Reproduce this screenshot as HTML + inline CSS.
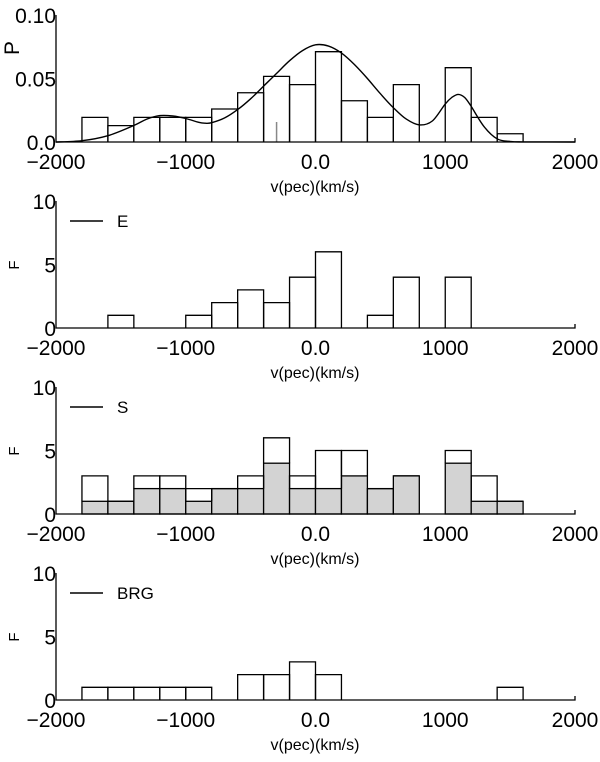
<!DOCTYPE html>
<html><head><meta charset="utf-8"><style>
html,body{margin:0;padding:0;background:#fff;}
svg text{font-family:"Liberation Sans",sans-serif;fill:#000;}
</style></head><body>
<svg id="c" width="600" height="757" viewBox="0 0 600 757" xmlns="http://www.w3.org/2000/svg"></svg>
<script>
const binStarts = [-1800,-1600,-1400,-1200,-1000,-800,-600,-400,-200,0,200,400,600,800,1000,1200,1400];
const pValues = [0.0194,0.0129,0.0194,0.0194,0.0194,0.026,0.0388,0.0517,0.0452,0.0711,0.0325,0.0194,0.0452,0,0.0585,0.0194,0.0065];
const curveV = [-2000,-1800,-1600,-1400,-1300,-1200,-1100,-1000,-900,-850,-800,-700,-600,-500,-400,-300,-200,-100,0,100,200,300,400,500,600,700,800,900,1000,1050,1100,1150,1200,1300,1400,1500,1600,2000];
const curveP = [0,0.001,0.005,0.013,0.018,0.0208,0.0205,0.0185,0.0155,0.0148,0.0152,0.019,0.0255,0.034,0.044,0.054,0.064,0.072,0.0765,0.0755,0.07,0.061,0.05,0.038,0.027,0.018,0.0135,0.0165,0.03,0.035,0.0375,0.035,0.028,0.012,0.0025,0.0005,0.0001,0];
const eCounts = [0,1,0,0,1,2,3,2,4,6,0,1,4,0,4,0,0];
const sCounts = [3,1,3,3,2,2,3,6,3,5,5,2,3,0,5,3,1];
const sGray   = [1,1,2,2,1,2,2,4,2,2,3,2,3,0,4,1,1];
const brgCounts=[1,1,1,1,1,0,2,2,3,2,0,0,0,0,0,0,1];
const xTicks = [-2000,-1000,0,1000,2000];
const xTickLabels = ["\u22122000","\u22121000","0.0","1000","2000"];
const binWidth = 200;

const NS="http://www.w3.org/2000/svg";
const svg=document.getElementById('c');
const X0=56, X1=575;
function xs(v){return X0+(v+2000)/4000*(X1-X0);}
function mk(tag,attrs,parent){const e=document.createElementNS(NS,tag);for(const k in attrs)e.setAttribute(k,attrs[k]);(parent||svg).appendChild(e);return e;}

const panels=[
 {zero:142,top:15,max:0.1,yt:[0,0.05,0.1],ytl:["0.0","0.05","0.10"],ylab:"P",name:"p-panel"},
 {zero:328,top:201,max:10,yt:[0,5,10],ytl:["0","5","10"],ylab:"F",name:"e-panel",leg:"E",data:eCounts},
 {zero:514,top:387,max:10,yt:[0,5,10],ytl:["0","5","10"],ylab:"F",name:"s-panel",leg:"S",data:sCounts,gray:sGray},
 {zero:700,top:573,max:10,yt:[0,5,10],ytl:["0","5","10"],ylab:"F",name:"brg-panel",leg:"BRG",data:brgCounts}
];
panels.forEach((p,pi)=>{
  const g=mk('g',{});
  
  
  const ys=v=>p.zero-v/p.max*(p.zero-p.top);
  const vals = pi===0?pValues:p.data;
  if(p.gray){
    p.gray.forEach((c,i)=>{if(c<=0)return;
      const r=mk('rect',{x:xs(binStarts[i]),y:ys(c),width:xs(binStarts[i]+binWidth)-xs(binStarts[i]),height:p.zero-ys(c),fill:'#d3d3d3',stroke:'#000','stroke-width':1.3},g);
      
      
    });
  }
  vals.forEach((c,i)=>{if(c<=0)return;
    const x=xs(binStarts[i]),w=xs(binStarts[i]+binWidth)-x;
    let d;
    if(p.gray&&p.gray[i]>0){d=`M${x},${ys(p.gray[i])}V${ys(c)}H${x+w}V${ys(p.gray[i])}`;}
    else d=`M${x},${p.zero}V${ys(c)}H${x+w}V${p.zero}`;
    const r=mk('path',{d:d,fill:'none',stroke:'#000','stroke-width':1.3},g);
    
    
  });
  if(pi===0){
    const pts=curveV.map((v,i)=>[xs(v),ys(curveP[i])]);
    let d='M'+pts[0][0].toFixed(1)+','+pts[0][1].toFixed(1);
    for(let i=0;i<pts.length-1;i++){
      const p0=pts[Math.max(0,i-1)],p1=pts[i],p2=pts[i+1],p3=pts[Math.min(pts.length-1,i+2)];
      const c1=[p1[0]+(p2[0]-p0[0])/6,p1[1]+(p2[1]-p0[1])/6];
      const c2=[p2[0]-(p3[0]-p1[0])/6,p2[1]-(p3[1]-p1[1])/6];
      d+=`C${c1[0].toFixed(1)},${c1[1].toFixed(1)} ${c2[0].toFixed(1)},${c2[1].toFixed(1)} ${p2[0].toFixed(1)},${p2[1].toFixed(1)}`;
    }
    const c=mk('path',{d:d,fill:'none',stroke:'#000','stroke-width':1.4,'stroke-linejoin':'round'},g);
    
    
    const m=mk('line',{x1:xs(-300),x2:xs(-300),y1:122,y2:p.zero,stroke:'#888','stroke-width':1.5},g);
    
    
  }
  const ax=mk('path',{d:`M${X0},${p.top}V${p.zero}H${X1}V${p.zero-4}`,fill:'none',stroke:'#000','stroke-width':1.3},g);
  
  
  p.yt.forEach((v,i)=>{
    const t=mk('text',{x:X0,y:ys(v)+8,'text-anchor':'end','font-size':21},g);t.textContent=p.ytl[i];
    
    
  });
  xTicks.forEach((v,i)=>{
    const t=mk('text',{x:xs(v),y:p.zero+27,'text-anchor':'middle','font-size':21},g);t.textContent=xTickLabels[i];
    
    
  });
  const xt=mk('text',{x:315,y:p.zero+50,'text-anchor':'middle','font-size':16},g);xt.textContent='v(pec)(km/s)';
  
  
  const yl=pi===0?{x:19,y:48,fs:21}:{x:19,y:p.zero-63,fs:15};
  const yt=mk('text',{x:yl.x,y:yl.y,'text-anchor':'middle','font-size':yl.fs,transform:`rotate(-90 ${yl.x} ${yl.y})`},g);yt.textContent=p.ylab;
  
  
  if(p.leg){
    const ly=p.top+26;
    const ll=mk('line',{x1:70,x2:103,y1:ly-6,y2:ly-6,stroke:'#000','stroke-width':1.5},g);
    
    
    const lt=mk('text',{x:117,y:ly,'font-size':17},g);lt.textContent=p.leg;
    
    
  }
});
</script>
</body></html>
